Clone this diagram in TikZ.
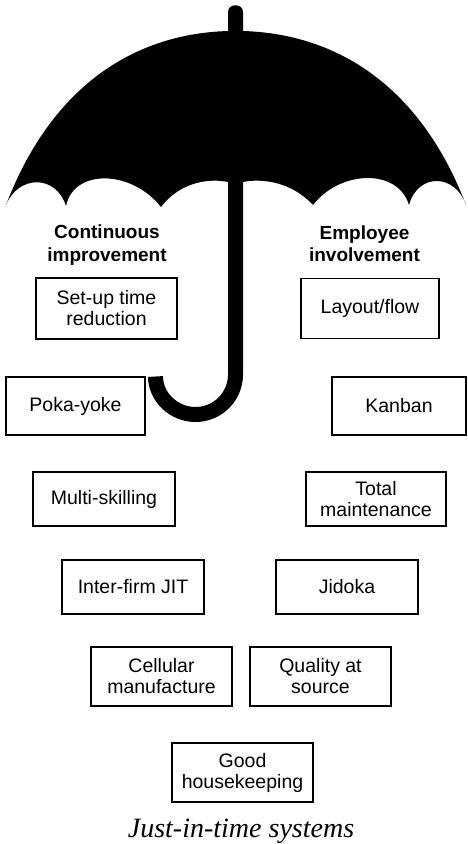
\documentclass[tikz,border=0pt]{standalone}
\usepackage{fontspec}
\setmainfont{Liberation Serif}
\setsansfont{Liberation Sans}
\usetikzlibrary{
	positioning							% Relative placement of the boxes
}

\begin{document}
\begin{tikzpicture}
		[
		,x=1pt, y=-1pt
		,node distance = 0pt
		,box/.style = {
			,draw=black
			,line width=1.3pt
			,minimum width=141pt
			,minimum height=59pt
			,inner sep=2pt
			,outer sep=0pt
			,align=center
			,font=\sffamily\fontsize{19.5}{21}\selectfont}
		,heading/.style = {
			,align=center
			,inner sep=0pt
			,font=\sffamily\bfseries\fontsize{19}{22.5}\selectfont}
		,caption_text/.style = {
			,inner sep=0pt
			,anchor=base
			,font=\itshape\fontsize{28}{32}\selectfont}
		]
		\useasboundingbox (0,0) rectangle (468,844);
		
		% Canopy with tip and scalloped edge
		\fill (6,205)
			.. controls (50,90) and (130,34) .. (228,31)
			-- (228,12) .. controls (228,3) and (243,3) .. (243,12) -- (243,31)
			.. controls (341,34) and (422,90) .. (466,205)
			.. controls (456,174) and (418,172) .. (409,205)
			.. controls (398,168) and (340,170) .. (313,205)
			.. controls (292,182) and (262,178) .. (243,182)
			-- (228,182)
			.. controls (209,178) and (180,182) .. (161,207)
			.. controls (132,170) and (74,168) .. (66,206)
			.. controls (56,174) and (18,175) .. (6,205) -- cycle;
		
		% Shaft and handle
		\draw [line width=15pt] (235.5,175) -- (235.5,374.5)
			.. controls (235.5,396.6) and (217.6,414.5) .. (195.5,414.5)
			.. controls (173.4,414.5) and (155.5,396.6) .. (155.5,376.5);
		
		% Headings under the canopy
		\node [heading] (contimp) at (107,245)   {Continuous\\improvement};
		\node [heading] (empinv)  at (364.5,243.5) {Employee\\involvement};
		
		% Left and right columns of boxes
		\node [box, minimum height=61pt] 					 (setup)      at (106.5,308.5) {Set-up time\\reduction};
		\node [box, minimum height=60pt, minimum width=138pt, right=124pt of setup] (layout) {Layout/flow};
		
		\node [box, minimum height=58pt, minimum width=139pt] (pokayoke)   at (75.5,406) {Poka-yoke};
		\node [box, minimum height=58pt, minimum width=134pt, right=187pt of pokayoke] (kanban) {Kanban};
		
		\node [box, minimum height=54pt, minimum width=142pt] (multiskill) at (104,499) {Multi-skilling};
		\node [box, minimum height=54pt, minimum width=140pt, right=131pt of multiskill] (totalmaint) {Total\\maintenance};
		
		\node [box, minimum height=54pt, minimum width=142pt] (interfirm)  at (133,587) {Inter-firm JIT};
		\node [box, minimum height=54pt, minimum width=142pt, right=72pt of interfirm] (jidoka) {Jidoka};
		
		\node [box] 										 (cellular)   at (161.5,676.5) {Cellular\\manufacture};
		\node [box, right=18pt of cellular] 				 (quality)    {Quality at\\source};
		
		\node [box] 										 (housekeep)  at (242.5,772.5) {Good\\housekeeping};
		
		% Caption
		\node [caption_text] (caption) at (241,837) {Just-in-time systems};
	\end{tikzpicture}
\end{document}
